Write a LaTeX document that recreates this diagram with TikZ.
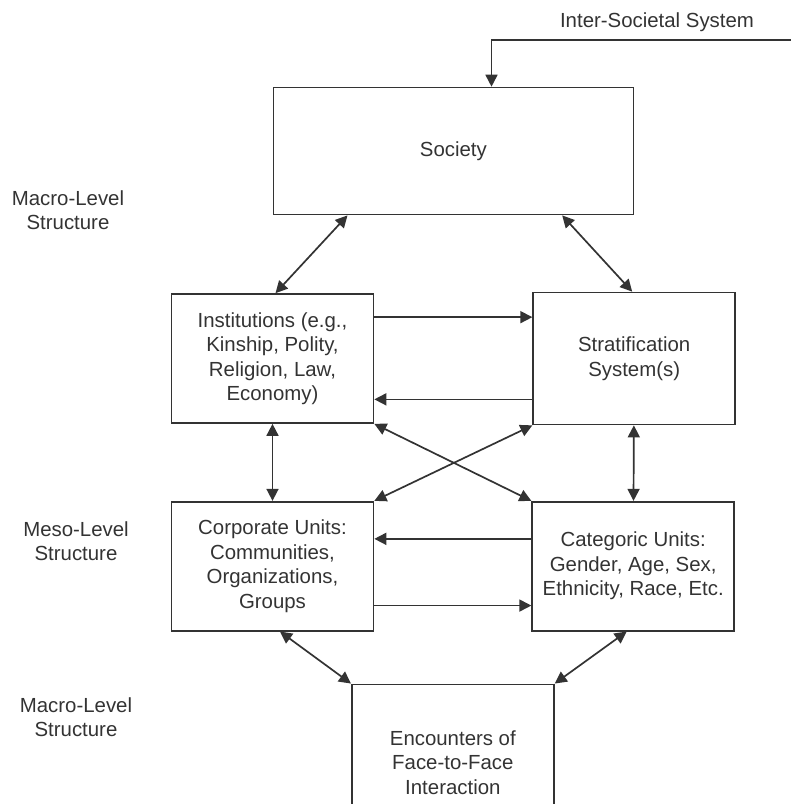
\documentclass[tikz,border=0pt]{standalone}
\usepackage{fontspec}
\setmainfont{Liberation Sans}
\usetikzlibrary{positioning, arrows.meta, calc}
\definecolor{ink}{HTML}{333333}
\tikzset{
	block/.style={draw, minimum width=101pt, minimum height=64.5pt, align=center, inner sep=0pt},
	levelname/.style={align=center, inner sep=0pt}
}

\begin{document}
\begin{tikzpicture}[x=0.5pt, y=-0.5pt, color=ink, line width=0.85pt, font=\fontsize{10.2}{12.25}\selectfont, >={Triangle[length=6pt,width=6pt]}]
	\useasboundingbox (0,0) rectangle (791,804);
	\clip (0,0) rectangle (791,804);

	\node[block] (I) at (272.5,358.5) {Institutions (e.g.,\\Kinship, Polity,\\Religion, Law,\\Economy)};
	\node[block, minimum height=66pt, right=79pt of I] (St) {Stratification\\System(s)};
	\node[block, below=38.5pt of I] (C) {Corporate Units:\\Communities,\\Organizations,\\Groups};
	\node[block, right=78.5pt of C] (K) {Categoric Units:\\Gender, Age, Sex,\\Ethnicity, Race, Etc.};
	\coordinate (mid) at ($(I.north)!0.5!(St.north)$);
	\node[block, minimum width=180pt, minimum height=63.5pt, above=38.5pt of mid] (S) {Society};
	\coordinate (low) at ($(C.south)!0.5!(K.south)$);
	\node[block, minimum height=78pt, below=26pt of low] (E) {Encounters of\\Face-to-Face\\Interaction};

	\node[levelname] (macro) at (68,210) {Macro-Level\\Structure};
	\node[levelname] (meso) at (76,541) {Meso-Level\\Structure};
	\node[levelname] (micro) at (76,717) {Macro-Level\\Structure};
	\node[levelname] (inter) at (657,22) {Inter-Societal System};
	\coordinate (src) at (791,40);

	\draw[->] (src) -| ($(S.north west)+(219,0)$);
	\draw[<->] ($(S.south west)+(75,0)$) -- ($(I.north)+(3,0)$);
	\draw[<->] ($(S.south east)+(-72,0)$) -- ($(St.north)+(-2,0)$);
	\draw[->] ([yshift=-12pt]I.north east) -- ([yshift=-12pt]I.north east -| St.west);
	\draw[->] ([yshift=13pt]St.south west) -- ([yshift=13pt]St.south west -| I.east);
	\draw[<->] (I) -- (C);
	\draw[<->] (St) -- (K);
	\draw[<->] (I.south east) -- (K.north west);
	\draw[<->] (St.south west) -- (C.north east);
	\draw[->] ([yshift=-19pt]K.north west) -- ([yshift=-19pt]K.north west -| C.east);
	\draw[->] ([yshift=13pt]C.south east) -- ([yshift=13pt]C.south east -| K.west);
	\draw[<->] ($(C.south)+(7.5,0)$) -- (E.north west);
	\draw[<->] ($(K.south)+(-6.5,0)$) -- (E.north east);
\end{tikzpicture}
\end{document}
